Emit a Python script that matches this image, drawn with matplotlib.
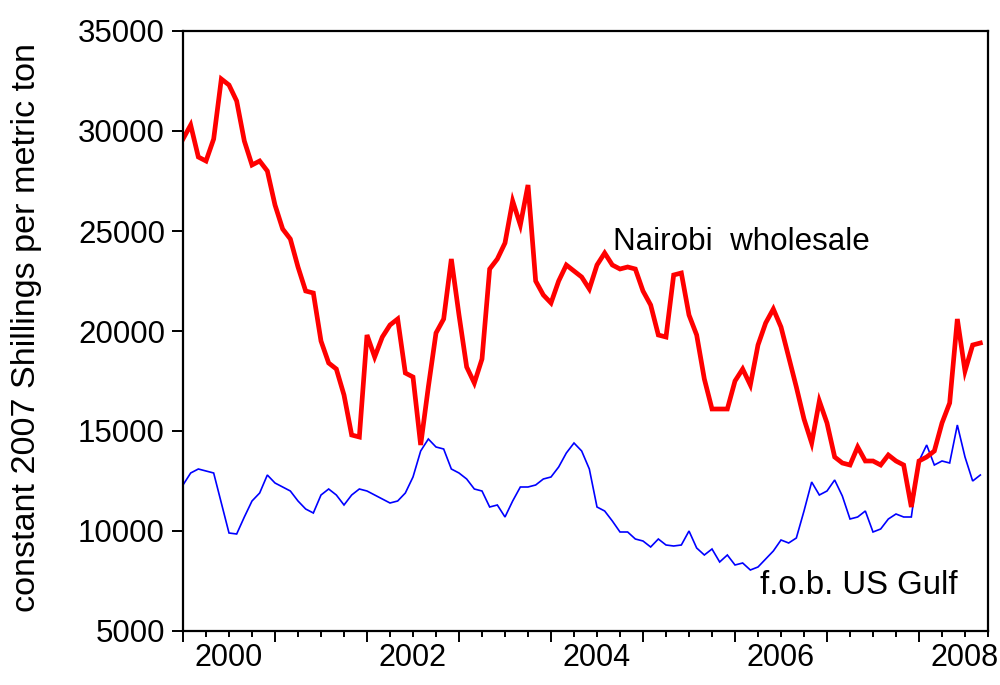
import matplotlib
matplotlib.use('Agg')
import matplotlib.pyplot as plt
from matplotlib import font_manager
import matplotlib.transforms as mtransforms

# Monthly observations, Jan 2000 .. Sep 2008 (index = months since Jan 2000)
months = list(range(105))

nairobi_wholesale = [
    29600, 30300, 28700, 28500, 29600, 32600, 32300, 31500, 29500, 28300, 28500, 28000,
    26300, 25100, 24600, 23200, 22000, 21900, 19500, 18400, 18100, 16800, 14800, 14700,
    19800, 18700, 19700, 20300, 20600, 17900, 17700, 14300, 17200, 19900, 20600, 23600,
    20800, 18200, 17400, 18600, 23100, 23600, 24400, 26500, 25300, 27300, 22500, 21800,
    21400, 22500, 23300, 23000, 22700, 22100, 23300, 23900, 23300, 23100, 23200, 23100,
    22000, 21300, 19800, 19700, 22800, 22900, 20800, 19800, 17600, 16100, 16100, 16100,
    17500, 18100, 17300, 19300, 20400, 21100, 20200, 18700, 17200, 15600, 14400, 16500,
    15400, 13700, 13400, 13300, 14200, 13500, 13500, 13300, 13800, 13500, 13300, 11200,
    13500, 13700, 14000, 15400, 16400, 20600, 18000, 19300, 19400,
]

fob_us_gulf = [
    12300, 12900, 13100, 13000, 12900, 11400, 9900, 9850, 10700, 11500, 11900, 12800,
    12400, 12200, 12000, 11500, 11100, 10900, 11800, 12100, 11800, 11300, 11800, 12100,
    12000, 11800, 11600, 11400, 11500, 11900, 12700, 14000, 14600, 14200, 14100, 13100,
    12900, 12600, 12100, 12000, 11200, 11300, 10700, 11500, 12200, 12200, 12300, 12600,
    12700, 13200, 13900, 14400, 14000, 13100, 11200, 11000, 10500, 9950, 9950, 9600,
    9500, 9200, 9600, 9300, 9250, 9300, 10000, 9150, 8800, 9100, 8450, 8800,
    8300, 8400, 8050, 8200, 8600, 9000, 9550, 9400, 9650, 11000, 12450, 11800,
    12000, 12550, 11750, 10600, 10700, 11000, 9950, 10100, 10600, 10850, 10700, 10700,
    13500, 14300, 13300, 13500, 13400, 15300, 13700, 12500, 12800,
]

year_labels = ['2000', '2002', '2004', '2006', '2008']
year_label_months = [6, 30, 54, 78, 102]
y_ticks = [5000, 10000, 15000, 20000, 25000, 30000, 35000]

names = {f.name for f in font_manager.fontManager.ttflist}
base = 'Liberation Sans' if 'Liberation Sans' in names else 'DejaVu Sans'
narrow = 'Liberation Sans Narrow' if 'Liberation Sans Narrow' in names else base
plt.rcParams['font.family'] = [base, 'DejaVu Sans']

fig = plt.figure(figsize=(10, 6.85), dpi=100)
ax = fig.add_axes([0.183, 1 - 631 / 685, 0.805, 600 / 685])

ax.plot(months, fob_us_gulf, color='#0000ff', lw=1.2, solid_joinstyle='miter')
ax.plot(months, nairobi_wholesale, color='#ff0000', lw=3.4, solid_joinstyle='miter')

ax.set_xlim(0, 105)
ax.set_ylim(5000, 35000)
ax.set_yticks(y_ticks)
ax.set_yticklabels([str(v) for v in y_ticks], fontsize=22.5)
ax.set_xticks(list(range(0, 106, 12)))
ax.set_xticks(list(range(0, 106, 3)), minor=True)
ax.set_xticklabels([])

for s in ax.spines.values():
    s.set_linewidth(1.6)
    s.set_color('black')

ax.tick_params(axis='y', direction='out', length=8, width=1.4, pad=5, right=False)
ax.tick_params(axis='x', which='major', direction='out', length=8, width=1.4, top=False)
ax.tick_params(axis='x', which='minor', direction='out', length=4.5, width=1.4, top=False)

trans = mtransforms.blended_transform_factory(ax.transData, ax.transAxes)
for lab, m in zip(year_labels, year_label_months):
    ax.text(m, -0.045, lab, transform=trans, ha='center', va='center',
            fontsize=26 if narrow != base else 22, family=[narrow, 'DejaVu Sans'])

ax.text(56.1, 24450, 'Nairobi  wholesale', ha='left', va='center', fontsize=22.6)
ax.text(75.3, 7300, 'f.o.b. US Gulf', ha='left', va='center', fontsize=23.8)

fig.text(0.027, 1 - 328 / 685, 'constant 2007 Shillings per metric ton',
         rotation=90, ha='center', va='center', fontsize=24.6)

fig.savefig('out.png', dpi=100)
